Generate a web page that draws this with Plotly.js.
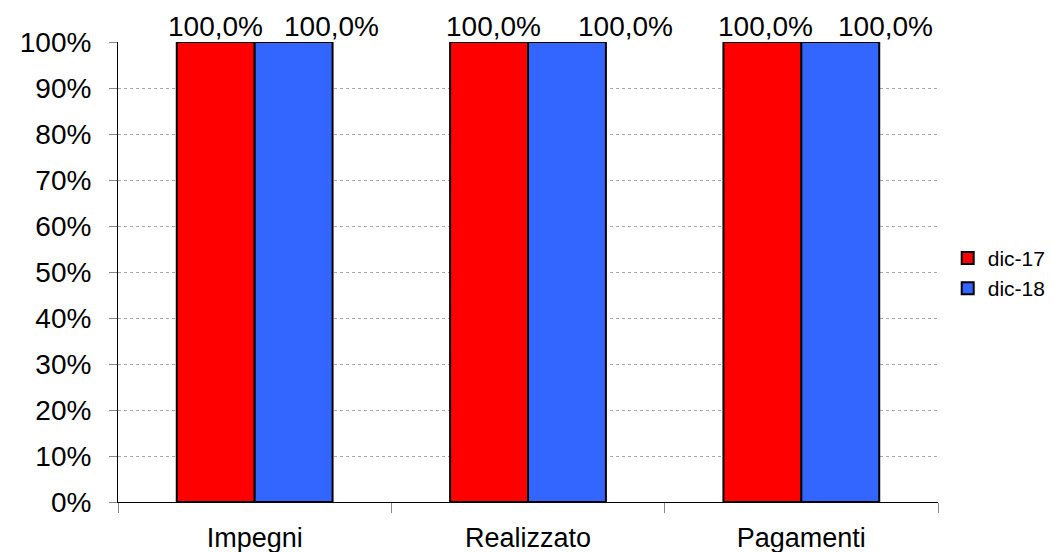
<!DOCTYPE html>
<html>
<head>
<meta charset="utf-8">
<script src="https://cdn.plot.ly/plotly-3.0.1.min.js"></script>
<style>html,body{margin:0;padding:0;background:#fff;}#chart{width:1053px;height:552px;}</style>
</head>
<body>
<div id="chart"></div>
<script>
const categories = ["Impegni", "Realizzato", "Pagamenti"];
const seriesNames = ["dic-17", "dic-18"];
const dic17 = [1.0, 1.0, 1.0];
const dic18 = [1.0, 1.0, 1.0];
const yTickVals = [0, 0.1, 0.2, 0.3, 0.4, 0.5, 0.6, 0.7, 0.8, 0.9, 1.0];
const yTickText = ["0%", "10%", "20%", "30%", "40%", "50%", "60%", "70%", "80%", "90%", "100%"];

// label placement (pixels, relative to category centre) — layout only
const labelShift17 = [-39, -35, -36];
const labelShift18 = [77, 97, 84];

const font = "Liberation Sans, Arial, sans-serif";
function fmt(v) { return (v * 100).toFixed(1).replace(".", ",") + "%"; }
function bar(name, vals, color) {
  return {
    type: "bar", name: name, x: categories, y: vals,
    marker: {color: color, line: {color: "#000", width: 2}},
    hoverinfo: "skip"
  };
}
const data = [bar(seriesNames[0], dic17, "#FF0000"), bar(seriesNames[1], dic18, "#3366FF")];
const annotations = [];
[[dic17, labelShift17], [dic18, labelShift18]].forEach(([vals, shifts]) => {
  vals.forEach((v, i) => annotations.push({
    xref: "x", yref: "y", x: categories[i], y: v, text: fmt(v), showarrow: false,
    xanchor: "center", yanchor: "bottom", xshift: shifts[i], yshift: -2,
    font: {family: font, size: 28, color: "#000"}
  }));
});
const layout = {
  width: 1053, height: 552,
  margin: {l: 118, r: 115, t: 42, b: 50, pad: 0, autoexpand: false},
  paper_bgcolor: "#fff", plot_bgcolor: "#fff",
  separators: ",.",
  barmode: "group", bargap: 0.43, bargroupgap: 0,
  font: {family: font, size: 28, color: "#000"},
  showlegend: true,
  legend: {xref: "container", x: 0.9, xanchor: "left", yref: "container", y: 0.505, yanchor: "middle",
           font: {family: font, size: 21, color: "#000"}, itemwidth: 30, tracegroupgap: 0},
  annotations: annotations,
  xaxis: {showline: true, linecolor: "#000", linewidth: 1, ticks: "outside", tickson: "boundaries",
          ticklen: 10, tickcolor: "#888", showgrid: false, tickfont: {family: font, size: 27},
          ticklabelstandoff: 12, fixedrange: true},
  yaxis: {range: [0, 1], tickvals: yTickVals, ticktext: yTickText, showline: true, linecolor: "#000",
          linewidth: 1, ticks: "outside", ticklen: 8, tickcolor: "#888", showgrid: true,
          gridcolor: "#aaa", griddash: "dot", gridwidth: 1, zeroline: false,
          tickfont: {family: font, size: 28}, ticklabelstandoff: 12, fixedrange: true}
};
Plotly.newPlot("chart", data, layout, {staticPlot: true, displayModeBar: false});
</script>
</body>
</html>
